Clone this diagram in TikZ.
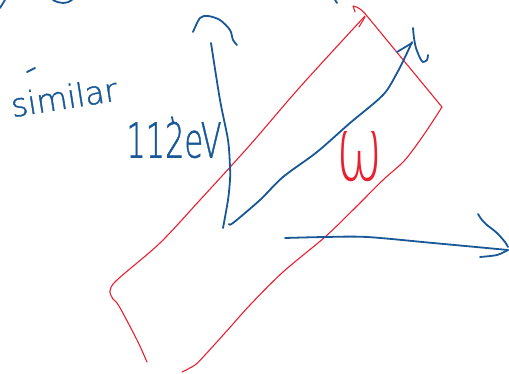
\documentclass[tikz,border=0pt]{standalone}
\usetikzlibrary{positioning}
\usepackage{xcolor}
\usepackage{graphicx}
\usepackage{fontspec}
\newfontfamily\inkfont{DejaVu Sans ExtraLight}[FakeBold=1.2]
\newfontfamily\omegafont{DejaVu Sans ExtraLight}

\definecolor{inkblue}{RGB}{24,88,150}
\definecolor{inkred}{RGB}{232,32,48}

\begin{document}
\begin{tikzpicture}[
x=1pt, y=-1pt,
blueink/.style={draw=inkblue, line width=1.8pt, line cap=round, line join=round},
redink/.style={draw=inkred, line width=1.1pt, line cap=round, line join=round},
label/.style={inner sep=0pt, text=inkblue, font=\inkfont\fontsize{32}{36}\selectfont},
]
\useasboundingbox (0,0) rectangle (509,374);

% Textos
\node[label, rotate=9] (sim) at (64,97) {similar};
\node[label] (ev) at (174,140) {\scalebox{0.95}[1.5]{112eV}};
\node[inner sep=0pt, text=inkred, font=\omegafont\fontsize{56}{60}\selectfont] (om) at (360,157) {\scalebox{1}[1.6]{ω}};

% Marcas soltas
\draw[blueink] (27,72) -- (35,68);
\draw[blueink] (172,117) -- (173,122);
\draw[blueink] (5,0) .. controls (3,4) .. (0,8);
\draw[blueink] (53,0) .. controls (60,4) and (67,4) .. (72,0);
\draw[blueink] (335,0) -- (337,3);

% Contorno vermelho
\draw[redink] plot[smooth, tension=0.5] coordinates {(365,16) (300,87) (250,145) (200,200) (160,243) (117,280) (110,291) (113,299) (119,306) (137,340) (147,362)};
\draw[redink] (355,12) -- (353,6) .. controls (359,7) and (363,11) .. (367,16) -- (442,107);
\draw[redink] (359,27) -- (365,17);
\draw[redink] plot[smooth, tension=0.5] coordinates {(442,107) (425,133) (405,160) (383,180) (355,208) (325,237) (283,272) (250,305) (225,333) (205,355) (195,365) (182,372)};

% Traco azul em V
\draw[blueink] plot[smooth, tension=0.5] coordinates {(193,32) (200,18) (208,16) (220,20) (230,30) (233,40) (237,45)};
\draw[blueink] plot[smooth, tension=0.5] coordinates {(211,43) (220,100) (228,140) (230,167) (230,180) (228,200) (223,228)};
\draw[blueink] plot[smooth, tension=0.5] coordinates {(229,224) (233,223) (260,200) (283,177) (317,152) (350,123) (383,95) (397,73) (407,53) (412,42)};
\draw[blueink] (397,52) -- (412,43);
\draw[blueink] plot[smooth, tension=0.5] coordinates {(413,28) (414,38) (416,48) (420,58) (423,62) (427,60) (428,55)};

% Seta horizontal
\draw[blueink] plot[smooth, tension=0.5] coordinates {(285,238) (325,237) (367,237) (433,243) (508,250)};
\draw[blueink] plot[smooth, tension=0.5] coordinates {(478,214) (482,220) (487,225) (497,233) (505,242) (508,247)};
\draw[blueink] plot[smooth, tension=0.5] coordinates {(480,257) (497,255) (508,250)};

\end{tikzpicture}
\end{document}
